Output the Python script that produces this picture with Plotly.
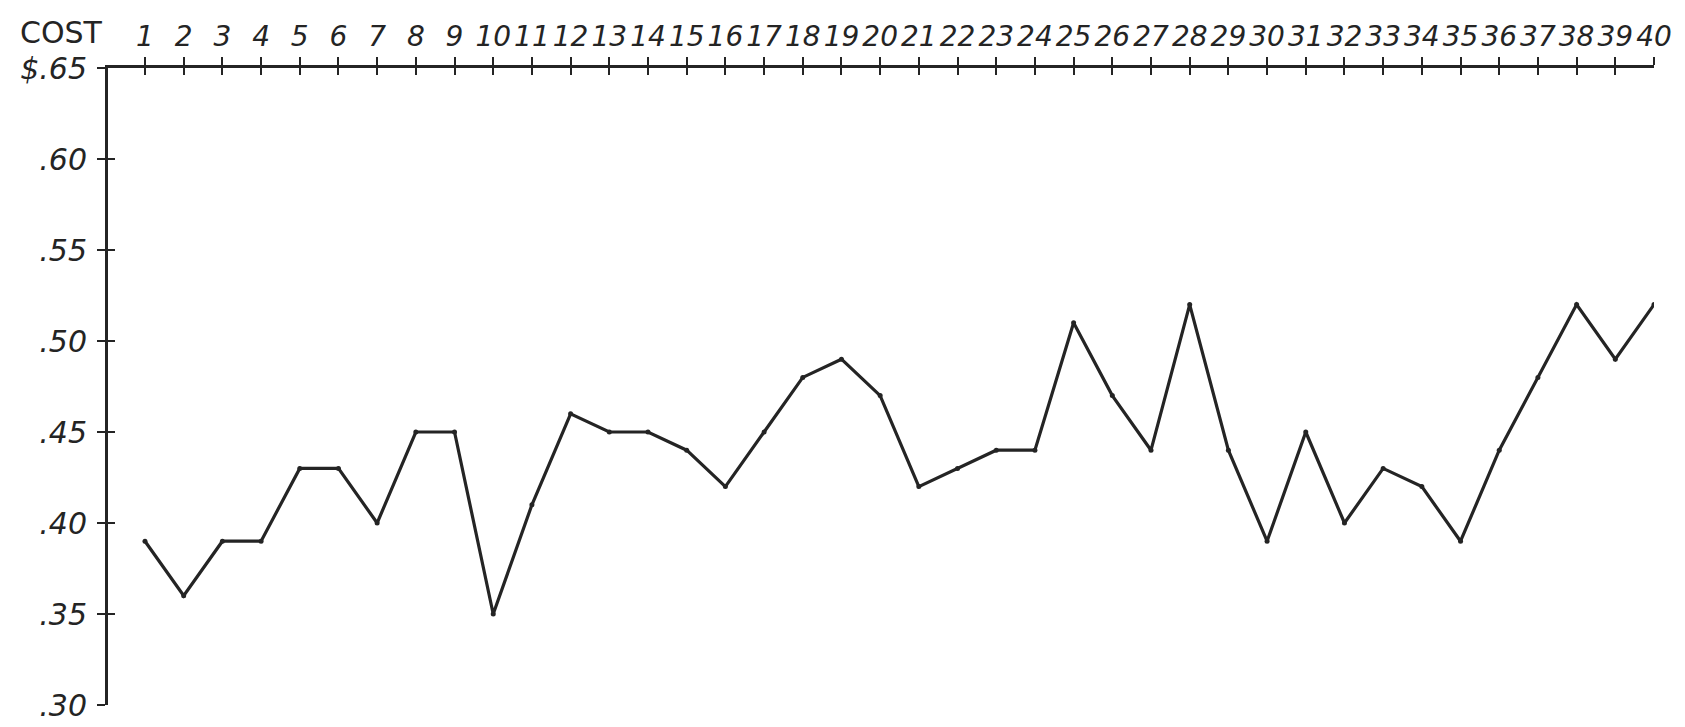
import plotly.graph_objects as go

periods = list(range(1, 41))
cost = [0.39, 0.36, 0.39, 0.39, 0.43, 0.43, 0.40, 0.45, 0.45, 0.35,
        0.41, 0.46, 0.45, 0.45, 0.44, 0.42, 0.45, 0.48, 0.49, 0.47,
        0.42, 0.43, 0.44, 0.44, 0.51, 0.47, 0.44, 0.52, 0.44, 0.39,
        0.45, 0.40, 0.43, 0.42, 0.39, 0.44, 0.48, 0.52, 0.49, 0.52]
x_tick_labels = [str(p) for p in periods]
y_tick_vals = [0.30, 0.35, 0.40, 0.45, 0.50, 0.55, 0.60, 0.65]
y_tick_labels = [".30", ".35", ".40", ".45", ".50", ".55", ".60", "$.65"]

INK = "#242424"
FONT = "DejaVu Sans"

fig = go.Figure()
fig.add_trace(go.Scatter(
    x=periods, y=cost, mode="lines+markers",
    line=dict(color=INK, width=3.2),
    marker=dict(color=INK, size=5),
    showlegend=False, hoverinfo="skip",
))
# invisible trace on overlay axes so they render
fig.add_trace(go.Scatter(x=[periods[0]], y=[cost[0]], xaxis="x2", yaxis="y2",
                         mode="markers", marker=dict(opacity=0), showlegend=False,
                         hoverinfo="skip"))

xrange = [0.044, 40]
yrange = [0.30, 0.65]

fig.update_layout(
    width=1685, height=727,
    margin=dict(l=100, r=39, t=48, b=19),
    paper_bgcolor="white", plot_bgcolor="white",
    xaxis=dict(
        range=xrange, side="top", tickmode="array",
        tickvals=periods, ticktext=x_tick_labels, tickangle=0,
        ticks="outside", ticklen=8, tickwidth=2.4, tickcolor=INK,
        showline=True, linecolor=INK, linewidth=3,
        showgrid=False, zeroline=False,
        tickfont=dict(family=FONT, size=28, color=INK, style="italic"),
        ticklabelstandoff=0,
    ),
    yaxis=dict(
        range=yrange, tickmode="array",
        tickvals=y_tick_vals, ticktext=y_tick_labels,
        ticks="outside", ticklen=8, tickwidth=2.4, tickcolor=INK,
        showline=True, linecolor=INK, linewidth=3,
        showgrid=False, zeroline=False,
        tickfont=dict(family=FONT, size=30, color=INK, style="italic"),
        ticklabelstandoff=4,
    ),
    xaxis2=dict(
        range=xrange, overlaying="x", side="top", tickmode="array",
        tickvals=periods, ticks="inside", ticklen=7, tickwidth=2.4,
        tickcolor=INK, showticklabels=False, showline=False,
        showgrid=False, zeroline=False,
    ),
    yaxis2=dict(
        range=yrange, overlaying="y", side="left", tickmode="array",
        tickvals=y_tick_vals, ticks="inside", ticklen=7, tickwidth=2.4,
        tickcolor=INK, showticklabels=False, showline=False,
        showgrid=False, zeroline=False,
    ),
    annotations=[dict(
        text="COST", xref="paper", yref="paper", x=-0.058, y=1.0,
        xanchor="left", yanchor="bottom", yshift=16, showarrow=False,
        font=dict(family=FONT, size=30, color=INK),
    )],
)

fig.write_html("out.html")
